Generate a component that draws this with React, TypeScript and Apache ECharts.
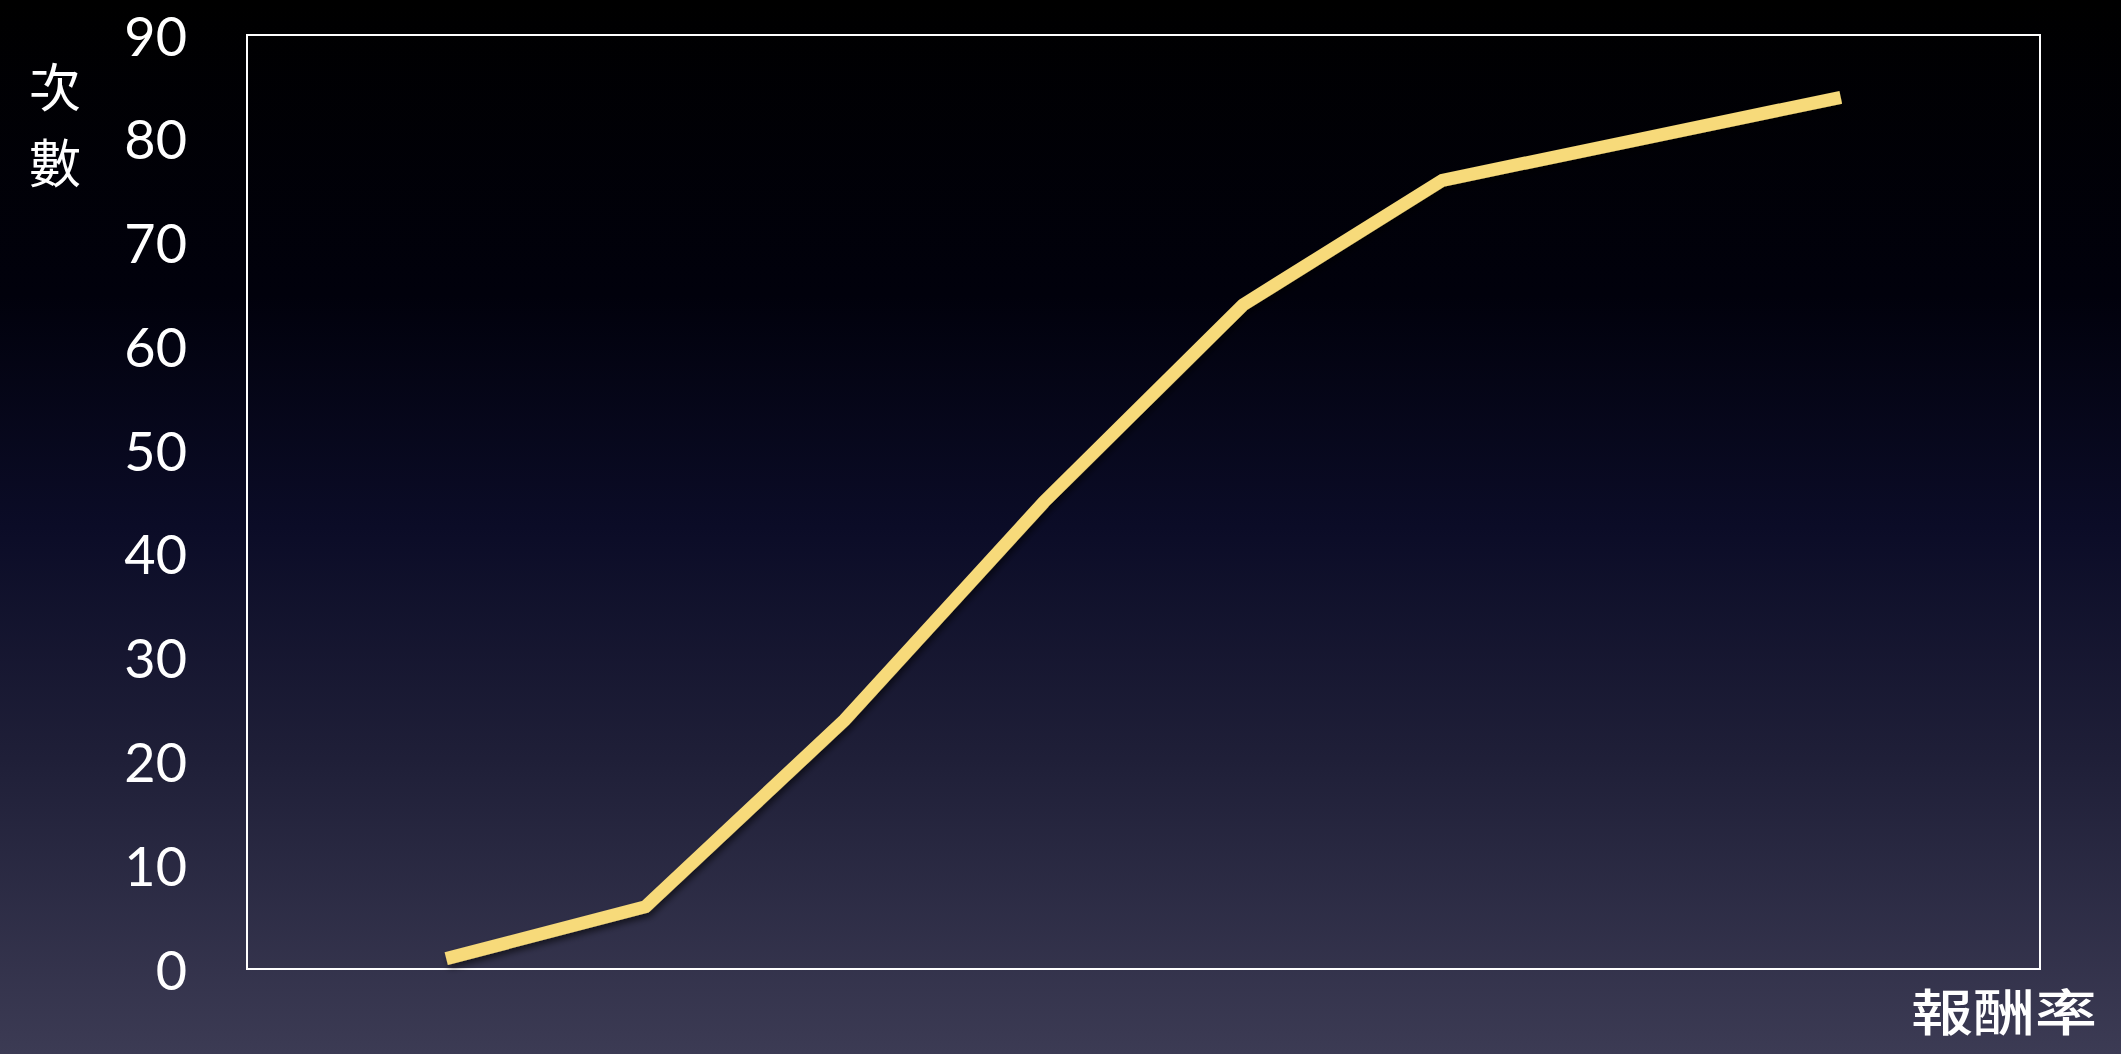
import React, { useEffect, useRef } from "react";
import * as echarts from "echarts";

// Ten evenly spaced return-rate buckets; the first and last are empty.
const categories = ["", "1", "2", "3", "4", "5", "6", "7", "8", ""];
const counts: (number | null)[] = [null, 1, 6, 24, 45, 64, 76, 80, 84, null];
const yTicks = [0, 10, 20, 30, 40, 50, 60, 70, 80, 90];
const yAxisTitle = ["次", "數"];
const xAxisTitle = "報酬率";

export default function App() {
  const ref = useRef<HTMLDivElement>(null);

  useEffect(() => {
    if (!ref.current) return;
    const chart = echarts.init(ref.current, null, { renderer: "svg" });

    // Vertical y-axis title, one glyph per line
    const yTitleTexts = yAxisTitle.map((ch, i) => ({
      type: "text",
      x: 29,
      y: 57 + i * 76,
      style: {
        text: ch,
        fill: "#ffffff",
        font: '52px "Noto Sans CJK TC"',
        lineHeight: 54,
      },
    }));

    chart.setOption({
      animation: false,
      backgroundColor: {
        type: "linear",
        x: 0,
        y: 0,
        x2: 0,
        y2: 1,
        colorStops: [
          { offset: 0, color: "#000000" },
          { offset: 0.28, color: "#01010c" },
          { offset: 0.5, color: "#0b0c27" },
          { offset: 0.72, color: "#1f1f38" },
          { offset: 1, color: "#3c3b54" },
        ],
      },
      grid: {
        left: 247,
        right: 81,
        top: 35,
        bottom: 85,
        show: true,
        borderColor: "#ffffff",
        borderWidth: 2,
        backgroundColor: "transparent",
      },
      xAxis: {
        type: "category",
        data: categories,
        boundaryGap: false,
        axisLine: { show: false },
        axisTick: { show: false },
        axisLabel: { show: false },
        splitLine: { show: false },
      },
      yAxis: {
        type: "value",
        min: yTicks[0],
        max: yTicks[yTicks.length - 1],
        interval: 10,
        axisLine: { show: false },
        axisTick: { show: false },
        splitLine: { show: false },
        axisLabel: {
          color: "#ffffff",
          fontFamily: "Lato",
          fontSize: 54,
          margin: 60,
        },
      },
      series: [
        {
          type: "line",
          data: counts,
          symbol: "none",
          connectNulls: false,
          lineStyle: {
            color: "#f7da7a",
            width: 13,
            cap: "butt",
            join: "miter",
            shadowColor: "rgba(0,0,0,0.55)",
            shadowBlur: 6,
            shadowOffsetX: 2,
            shadowOffsetY: 4,
          },
        },
      ],
      graphic: [
        ...yTitleTexts,
        {
          type: "text",
          x: 1911,
          y: 985,
          scaleY: 0.8,
          style: {
            text: xAxisTitle,
            fill: "#ffffff",
            font: '500 62px "Noto Sans CJK TC"',
          },
        },
      ],
    });
    return () => chart.dispose();
  }, []);

  return (
    <div
      ref={ref}
      style={{ position: "fixed", left: 0, top: 0, width: 2121, height: 1054 }}
    />
  );
}
